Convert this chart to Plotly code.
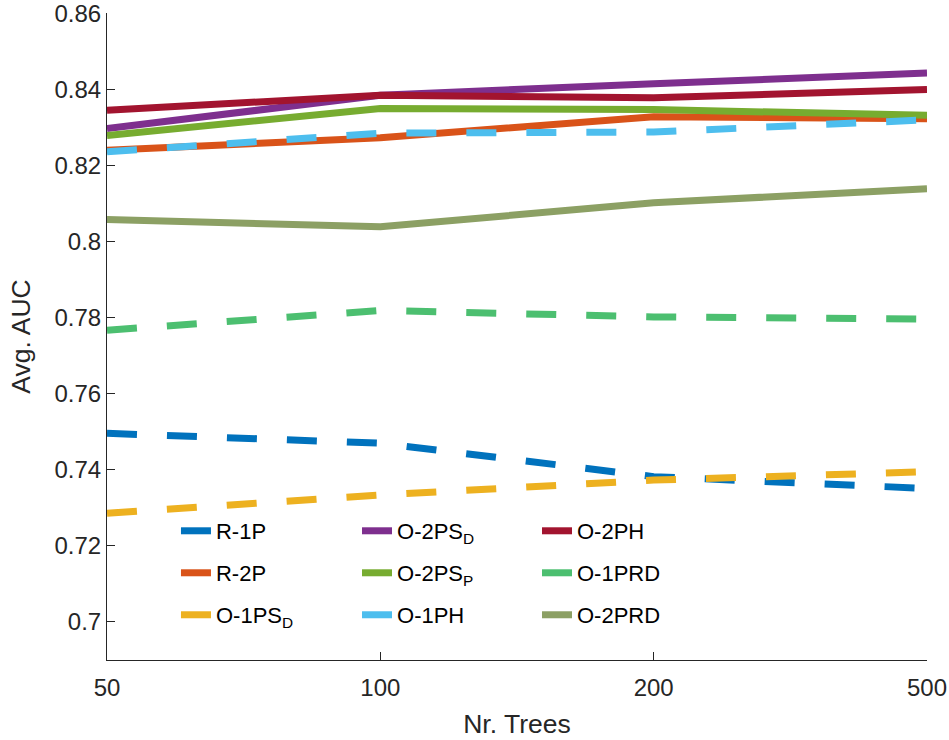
import plotly.graph_objects as go

trees = ["50", "100", "200", "500"]
y_ticks = [0.70, 0.72, 0.74, 0.76, 0.78, 0.80, 0.82, 0.84, 0.86]
y_tick_labels = ["0.7", "0.72", "0.74", "0.76", "0.78", "0.8", "0.82", "0.84", "0.86"]

names = ["R-1P", "R-2P", "O-1PS<sub>D</sub>", "O-2PS<sub>D</sub>", "O-2PS<sub>P</sub>",
         "O-1PH", "O-2PH", "O-1PRD", "O-2PRD"]

r_1p = [0.7496, 0.7470, 0.7382, 0.7351]
r_2p = [0.8240, 0.8273, 0.8328, 0.8323]
o_1ps_d = [0.7286, 0.7334, 0.7373, 0.7395]
o_2ps_d = [0.8297, 0.8385, 0.8415, 0.8443]
o_2ps_p = [0.8279, 0.8350, 0.8347, 0.8332]
o_1ph = [0.8236, 0.8285, 0.8288, 0.8320]
o_2ph = [0.8345, 0.8385, 0.8378, 0.8400]
o_1prd = [0.7767, 0.7819, 0.7802, 0.7796]
o_2prd = [0.8058, 0.8039, 0.8102, 0.8139]

series = [r_1p, r_2p, o_1ps_d, o_2ps_d, o_2ps_p, o_1ph, o_2ph, o_1prd, o_2prd]
colors = ["#0072BD", "#D95319", "#EDB120", "#7E2F8E", "#77AC30",
          "#4DBEEE", "#A2142F", "#4CBF70", "#8CA064"]
dashed = [True, False, True, False, False, True, False, True, False]

# legend placement: column-major (3 columns x 3 rows)
col_x = [0.0841, 0.3049, 0.5244]
row_y = [0.1994, 0.1345, 0.0696]

FONT = "Liberation Sans, Arial, Helvetica, sans-serif"
TXT = "#262626"

fig = go.Figure()
layout_legends = {}
for i, (nm, vals, col, dsh) in enumerate(zip(names, series, colors, dashed)):
    lname = "legend" if i == 0 else f"legend{i+1}"
    fig.add_trace(go.Scatter(
        x=trees, y=vals, mode="lines", name=nm,
        line=dict(color=col, width=7, dash="30px,30px" if dsh else "solid"),
        legend=lname, showlegend=True,
    ))
    c, r = divmod(i, 3)
    layout_legends[lname] = dict(
        x=col_x[c], y=row_y[r], xanchor="left", yanchor="middle",
        xref="paper", yref="paper",
        bgcolor="rgba(0,0,0,0)", borderwidth=0,
        font=dict(family=FONT, size=22, color="#000000"),
    )

fig.update_layout(
    width=949, height=740,
    margin=dict(l=107, r=22, t=13, b=80, autoexpand=False),
    paper_bgcolor="white", plot_bgcolor="white",
    font=dict(family=FONT, size=24, color=TXT),
    xaxis=dict(
        type="category", range=[0, 3], automargin=False,
        showgrid=False, zeroline=False,
        showline=True, linecolor=TXT, linewidth=1,
        ticks="inside", ticklen=8, tickwidth=1, tickcolor=TXT,
        ticklabelstandoff=6, ticklabeloverflow="allow",
        tickfont=dict(family=FONT, size=24, color=TXT),
        title=dict(text="Nr. Trees", font=dict(family=FONT, size=26.5, color=TXT), standoff=14),
    ),
    yaxis=dict(
        range=[0.69, 0.8601], tickvals=y_ticks, ticktext=y_tick_labels,
        automargin=False, ticklabeloverflow="allow",
        showgrid=False, zeroline=False,
        showline=True, linecolor=TXT, linewidth=1,
        ticks="inside", ticklen=8, tickwidth=1, tickcolor=TXT,
        tickfont=dict(family=FONT, size=24, color=TXT),
        title=dict(text="Avg. AUC", font=dict(family=FONT, size=26.5, color=TXT), standoff=16),
    ),
    **layout_legends,
)

fig.write_html("out.html")
